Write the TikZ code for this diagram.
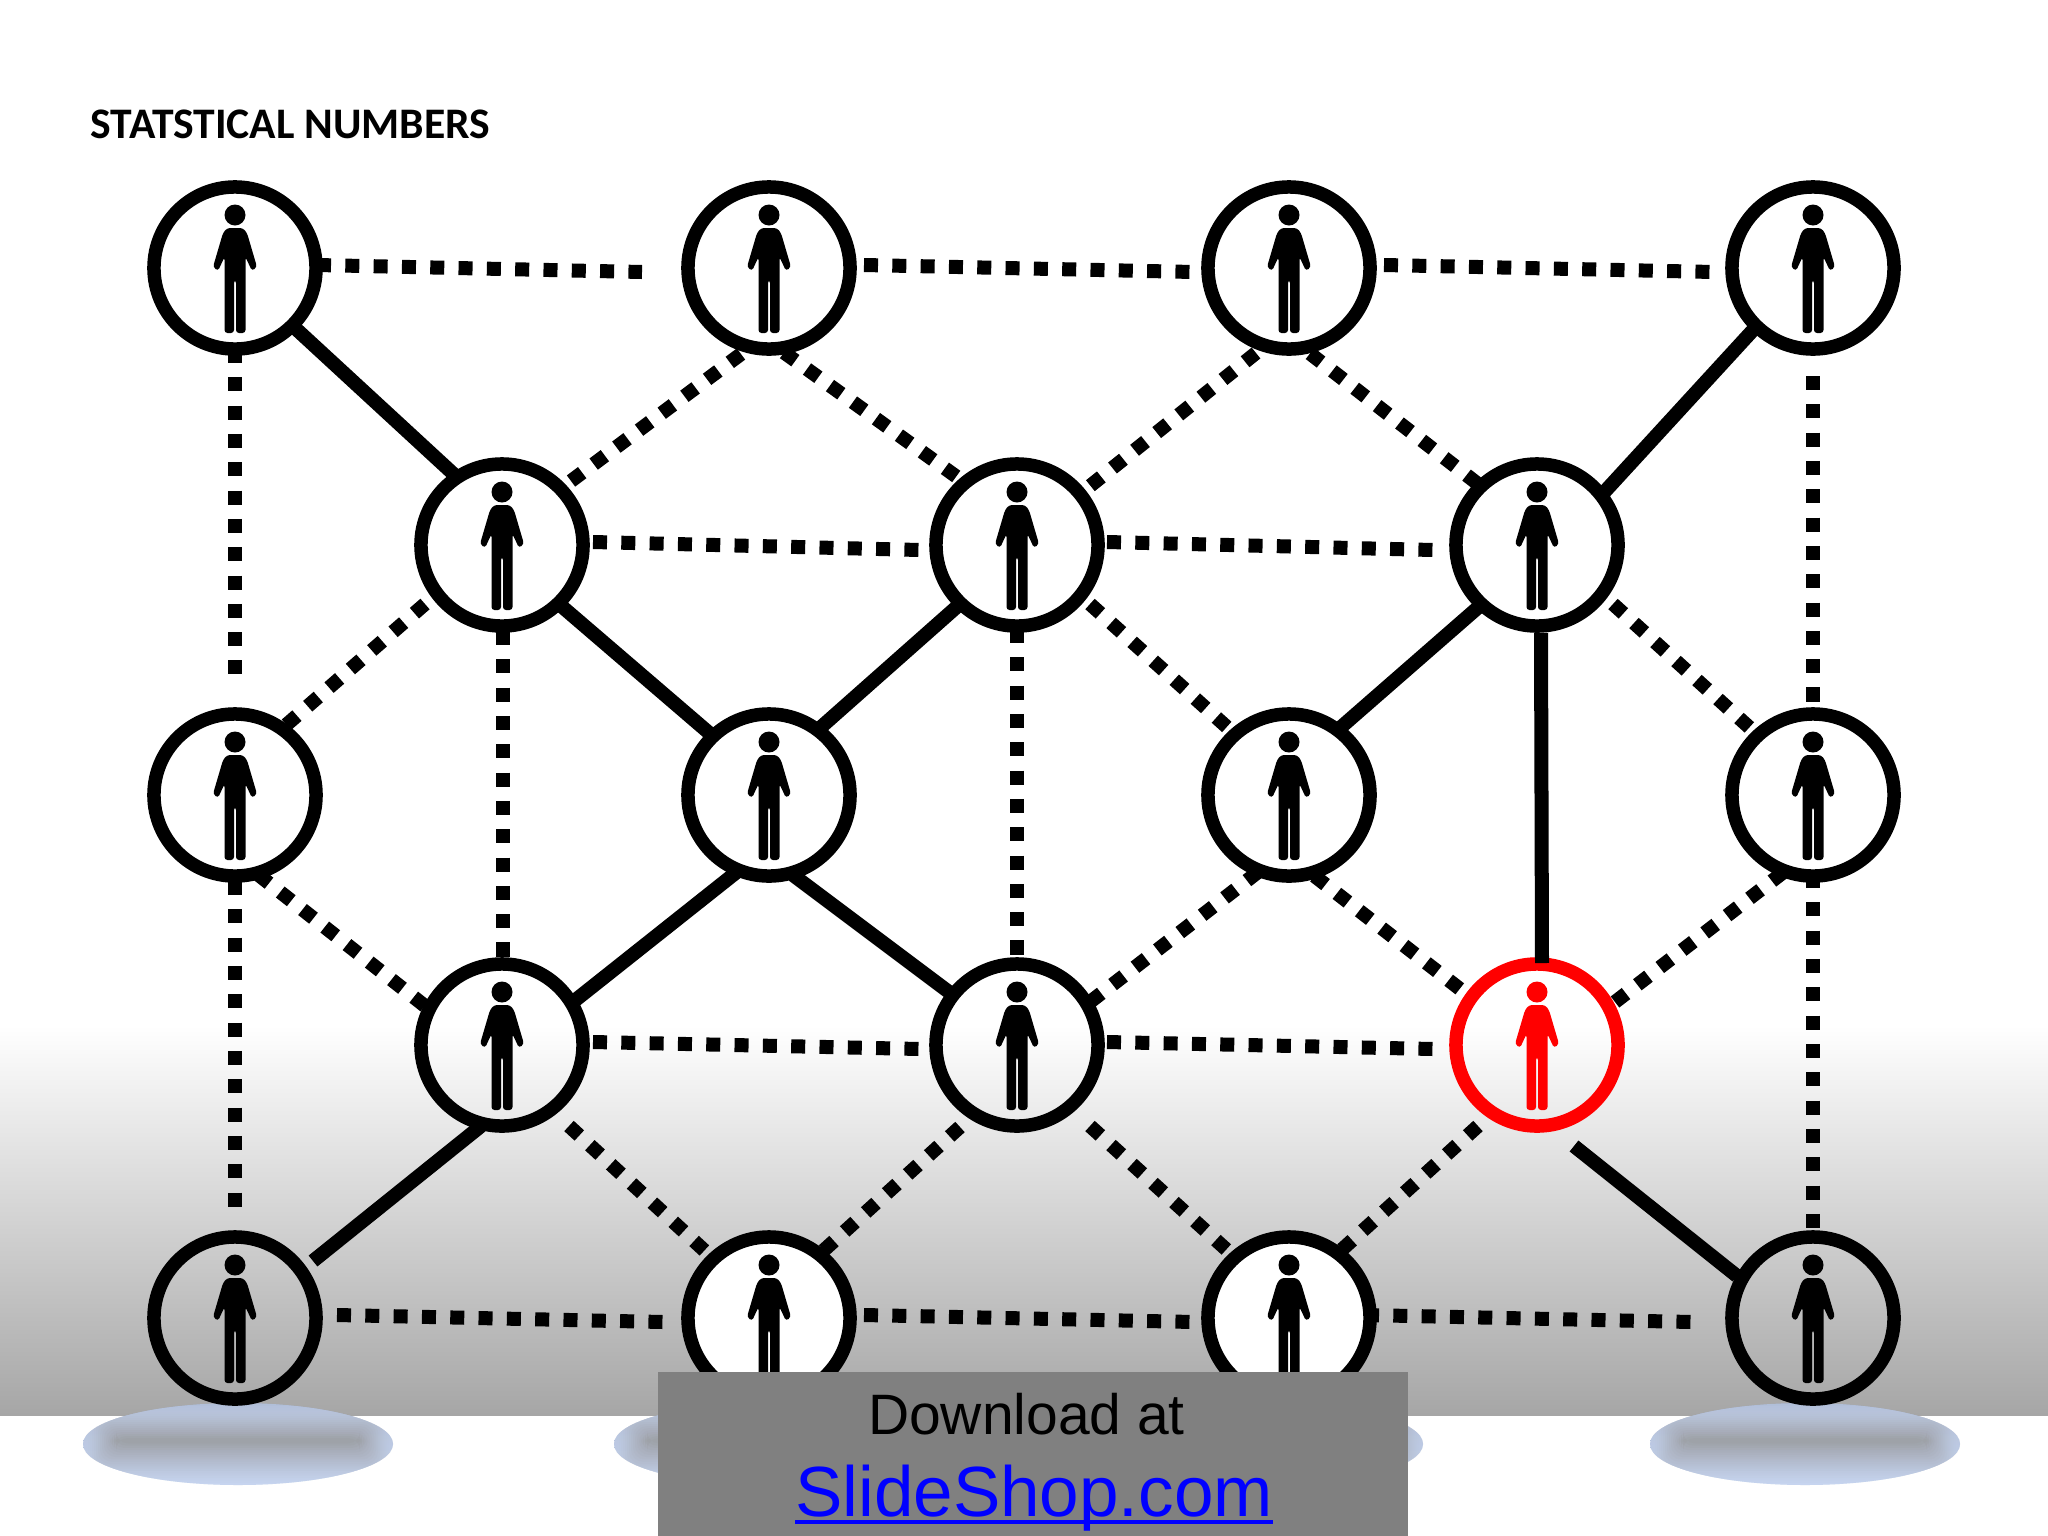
\documentclass[tikz,border=0pt]{standalone}
\usepackage{fontspec}
\usepackage{xcolor}
\usepackage{tikz}
\setmainfont{Liberation Sans}
\newfontfamily\titlefont{Carlito}
\definecolor{floortop}{HTML}{A6A6A6}
\definecolor{bannergray}{HTML}{808080}
\definecolor{shadowblue}{HTML}{C8D6F1}
\definecolor{shadowtop}{HTML}{9FACC8}
\definecolor{shadowmid}{HTML}{939393}
\newlength\linkwd
\newcommand\linkline[1]{\settowidth\linkwd{#1}\rlap{\rule[-2.2pt]{\linkwd}{1pt}}#1}

\begin{document}
\begin{tikzpicture}[
      x=0.01cm, y=-0.01cm,
      member/.style={circle, draw=#1, line width=.135cm, minimum size=1.62cm,
                     inner sep=0pt, outer sep=0pt,
                     path picture={
                       \begin{scope}[shift={(path picture bounding box.center)}]
                         \fill[#1] (0,-53) circle (10.5);
                         \fill[#1, rounded corners=.03cm] (-8,-40) -- (8,-40) -- (12,-35) -- (22,-1) -- (17,3)
                           -- (10.5,-11) -- (10.5,65) -- (1,65) -- (1,12) -- (-1,12) -- (-1,65)
                           -- (-10.5,65) -- (-10.5,-11) -- (-17,3) -- (-22,-1) -- (-12,-35) -- cycle;
                       \end{scope}}},
      member/.default=black,
      dotlink/.style={line width=.14cm, dash pattern=on .14cm off .143cm},
      solidlink/.style={line width=.14cm},
      pics/floorshadow/.style={code={
        \begin{scope}
          \clip (0,0) ellipse (155 and 41);
          \shade[top color=shadowtop, bottom color=shadowblue] (-155,-41) rectangle (155,41);
          \foreach \s in {0,5,...,95}
            \fill[shadowmid!\s!shadowblue, opacity=.2, rounded corners=.12cm]
              ({-120-.4*(100-\s)},{-4-.4*(100-\s)}) rectangle ({120+.4*(100-\s)},{-3+.46*(100-\s)});
        \end{scope}}}]
    \useasboundingbox (0,0) rectangle (2048,1536);
    \fill[white] (0,0) rectangle (2048,1536);
    \shade[top color=white, bottom color=floortop] (0,1025) rectangle (2048,1415);
    \pic at (238,1444) {floorshadow};
    \pic at (769,1444) {floorshadow};
    \pic at (1268,1444) {floorshadow};
    \pic at (1805,1444) {floorshadow};
    % people, row by row
    \node[member, fill=white] (a1) at (235,268) {};
    \node[member, fill=white] (a2) at (769,268) {};
    \node[member, fill=white] (a3) at (1289,268) {};
    \node[member, fill=white] (a4) at (1813,268) {};
    \node[member, fill=white] (b1) at (502,545) {};
    \node[member, fill=white] (b2) at (1017,545) {};
    \node[member, fill=white] (b3) at (1537,545) {};
    \node[member, fill=white] (c1) at (235,795) {};
    \node[member, fill=white] (c2) at (769,795) {};
    \node[member, fill=white] (c3) at (1289,795) {};
    \node[member, fill=white] (c4) at (1813,795) {};
    \node[member] (d1) at (502,1045) {};
    \node[member] (d2) at (1017,1045) {};
    \node[member=red] (d3) at (1537,1045) {};
    \node[member] (e1) at (235,1318) {};
    \node[member, fill=white] (e2) at (769,1318) {};
    \node[member, fill=white] (e3) at (1289,1318) {};
    \node[member] (e4) at (1813,1318) {};
    % dotted links
    \draw[dotlink] ([shift={(82,-3)}]a1.center) -- ([shift={(-127,4)}]a2.center);
    \draw[dotlink] ([shift={(95,-3)}]a2.center) -- ([shift={(-95,4)}]a3.center);
    \draw[dotlink] ([shift={(95,-3)}]a3.center) -- ([shift={(-99,4)}]a4.center);
    \draw[dotlink] ([shift={(0,81)}]a1.center) -- ([shift={(0,-121)}]c1.center);
    \draw[dotlink] ([shift={(0,108)}]a4.center) -- ([shift={(0,-93)}]c4.center);
    \draw[dotlink] ([shift={(-28,86)}]a2.center) -- ([shift={(69,-64)}]b1.center);
    \draw[dotlink] ([shift={(15,84.5)}]a2.center) -- ([shift={(-60,-68)}]b2.center);
    \draw[dotlink] ([shift={(-33,85)}]a3.center) -- ([shift={(73,-59)}]b2.center);
    \draw[dotlink] ([shift={(21,85.5)}]a3.center) -- ([shift={(-59,-61)}]b3.center);
    \draw[dotlink] ([shift={(91,-3)}]b1.center) -- ([shift={(-97,5)}]b2.center);
    \draw[dotlink] ([shift={(90,-3)}]b2.center) -- ([shift={(-104,5)}]b3.center);
    \draw[dotlink] ([shift={(-77,59)}]b1.center) -- ([shift={(50,-69)}]c1.center);
    \draw[dotlink] ([shift={(1,86)}]b1.center) -- ([shift={(1,-88)}]d1.center);
    \draw[dotlink] ([shift={(73,59)}]b2.center) -- ([shift={(-61,-67)}]c3.center);
    \draw[dotlink] ([shift={(0,84)}]b2.center) -- ([shift={(0,-90)}]d2.center);
    \draw[dotlink] ([shift={(76,59)}]b3.center) -- ([shift={(-63,-67)}]c4.center);
    \draw[dotlink] ([shift={(-30,77.5)}]c4.center) -- ([shift={(78,-43)}]d3.center);
    \draw[dotlink] ([shift={(25.5,81)}]c3.center) -- ([shift={(-77,-56)}]d3.center);
    \draw[dotlink] ([shift={(-31,77)}]c3.center) -- ([shift={(73,-43)}]d2.center);
    \draw[dotlink] ([shift={(23,79.5)}]c1.center) -- ([shift={(-77,-39)}]d1.center);
    \draw[dotlink] ([shift={(0,86)}]c1.center) -- ([shift={(0,-110)}]e1.center);
    \draw[dotlink] ([shift={(0,79)}]c4.center) -- ([shift={(0,-90)}]e4.center);
    \draw[dotlink] ([shift={(91,-3)}]d1.center) -- ([shift={(-97,4)}]d2.center);
    \draw[dotlink] ([shift={(90,-3)}]d2.center) -- ([shift={(-104,4)}]d3.center);
    \draw[dotlink] ([shift={(67,81)}]d1.center) -- ([shift={(-64,-67)}]e2.center);
    \draw[dotlink] ([shift={(-57,82)}]d2.center) -- ([shift={(54,-67)}]e2.center);
    \draw[dotlink] ([shift={(73,81)}]d2.center) -- ([shift={(-61,-67)}]e3.center);
    \draw[dotlink] ([shift={(-59,81)}]d3.center) -- ([shift={(53,-68.5)}]e3.center);
    \draw[dotlink] ([shift={(102,-3)}]e1.center) -- ([shift={(-106,4)}]e2.center);
    \draw[dotlink] ([shift={(95,-3)}]e2.center) -- ([shift={(-95,4)}]e3.center);
    \draw[dotlink] ([shift={(76,-3)}]e3.center) -- ([shift={(-121,4)}]e4.center);
    % solid links
    \draw[solidlink] ([shift={(59,59)}]a1.center) -- ([shift={(-42,-65)}]b1.center);
    \draw[solidlink] ([shift={(-59,61)}]a4.center) -- ([shift={(61,-46)}]b3.center);
    \draw[solidlink] ([shift={(57,59)}]b1.center) -- ([shift={(-54,-57)}]c2.center);
    \draw[solidlink] ([shift={(-57,59)}]b2.center) -- ([shift={(51,-67)}]c2.center);
    \draw[solidlink] ([shift={(-55,59)}]b3.center) -- ([shift={(51,-67)}]c3.center);
    \draw[solidlink] ([shift={(4,88)}]b3.center) -- ([shift={(5,-82)}]d3.center);
    \draw[solidlink] ([shift={(-31,76)}]c2.center) -- ([shift={(71,-43)}]d1.center);
    \draw[solidlink] ([shift={(24,80)}]c2.center) -- ([shift={(-64,-50)}]d2.center);
    \draw[solidlink] ([shift={(-21,81)}]d1.center) -- ([shift={(78,-57)}]e1.center);
    \draw[solidlink] ([shift={(37,101)}]d3.center) -- ([shift={(-76,-42)}]e4.center);
    % banner and texts
    \fill[bannergray] (658,1372) rectangle (1408,1536);
    \node[anchor=base, inner sep=0pt, font=\fontsize{16.2}{18}\selectfont] (download) at (1026.5,1434) {Download at};
    \node[anchor=base, inner sep=0pt, text=blue, font=\fontsize{20.2}{22}\selectfont] (link) at (1034,1516) {\linkline{SlideShop.com}};
    \node[anchor=base west, inner sep=0pt, font=\titlefont\bfseries\fontsize{12.4}{14}\selectfont] (title) at (90,138) {STATSTICAL NUMBERS};
  \end{tikzpicture}
\end{document}
